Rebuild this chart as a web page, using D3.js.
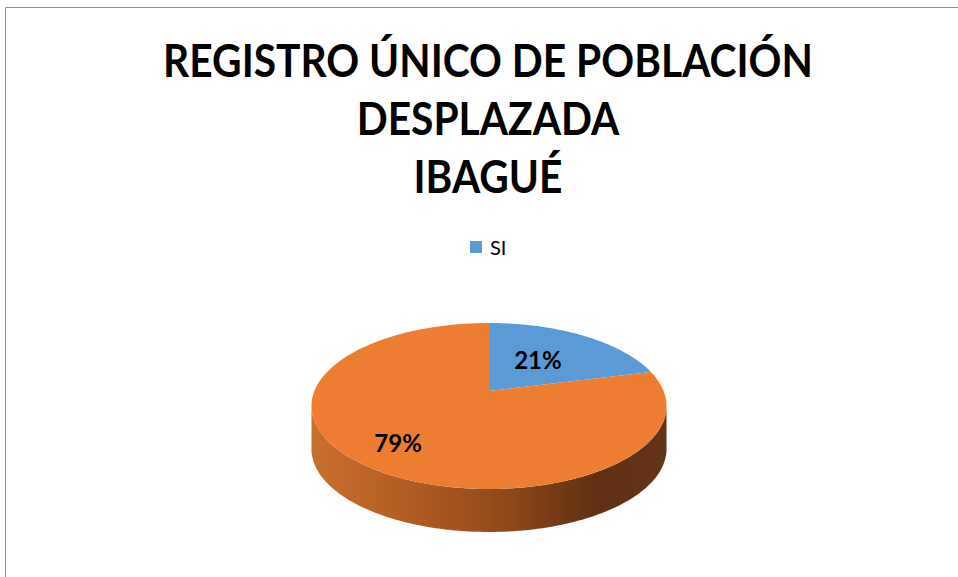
<!DOCTYPE html>
<html>
<head>
<meta charset="utf-8">
<script src="https://cdn.jsdelivr.net/npm/d3@7"></script>
<style>
  html, body { margin: 0; padding: 0; background: #fff; }
  svg { display: block; }
</style>
</head>
<body>
<svg id="chart" width="958" height="577"></svg>
<script>
// ---- data ----
const titleLines = ["REGISTRO ÚNICO DE POBLACIÓN", "DESPLAZADA", "IBAGUÉ"];
const categories = ["SI", "NO"];
const legendLabels = ["SI"];
const values = [21, 79];
const labels = ["21%", "79%"];
const colors = ["#5b9bd5", "#ed7d31"];

// ---- layout ----
const W = 958, H = 577;
const svg = d3.select("#chart");

// border (top & left visible)
svg.append("line").attr("x1", 5.5).attr("y1", 7.5).attr("x2", W).attr("y2", 7.5)
  .attr("stroke", "#8c8c8c").attr("stroke-width", 1);
svg.append("line").attr("x1", 5.5).attr("y1", 7.5).attr("x2", 5.5).attr("y2", H)
  .attr("stroke", "#8c8c8c").attr("stroke-width", 1);

// title
const titleG = svg.append("g");
const baselines = [77, 135, 193];
titleLines.forEach((t, i) => {
  titleG.append("text")
    .attr("x", 488).attr("y", baselines[i])
    .attr("text-anchor", "middle")
    .attr("font-family", "Lato, 'Open Sans', sans-serif")
    .attr("font-weight", 700)
    .attr("font-size", 45)
    .attr("fill", "#000")
    .text(t);
});
// fit first line width to ~650px
const first = titleG.select("text").node();
const wlen = first.getComputedTextLength();
if (wlen > 0) {
  const sx = 650 / wlen;
  titleG.selectAll("text").each(function() {
    const x = +this.getAttribute("x");
    d3.select(this).attr("transform", `translate(${x},0) scale(${sx},1) translate(${-x},0)`);
  });
}

// legend
const legend = svg.append("g");
legendLabels.forEach((l, i) => {
  legend.append("rect").attr("x", 470).attr("y", 241).attr("width", 12).attr("height", 12)
    .attr("fill", colors[categories.indexOf(l)]);
  legend.append("text").attr("x", 490).attr("y", 255)
    .attr("font-family", "Lato, 'Open Sans', sans-serif").attr("font-size", 20)
    .attr("fill", "#000").text(l);
});

// ---- 3D pie projection ----
const X0 = 489, Y0 = 391, A = 174.6, B = 80.3, K = -0.1806, DEPTH = 43;
function proj(a, r = 1) {
  const u = r * Math.sin(a), v = -r * Math.cos(a);
  const s = 1 + K * v;
  return [X0 + A * u / s, Y0 + B * v / s];
}
const pie = d3.pie().sort(null).value(d => d);
const arcs = pie(values);

// gradient for side
const defs = svg.append("defs");
const grad = defs.append("linearGradient").attr("id", "sideOrange")
  .attr("gradientUnits", "userSpaceOnUse")
  .attr("x1", 312).attr("y1", 0).attr("x2", 668).attr("y2", 0);
[[0, "#c8702e"], [0.3, "#b05a22"], [0.55, "#8f4819"], [0.8, "#5f3013"], [1, "#643418"]]
  .forEach(([o, c]) => grad.append("stop").attr("offset", o).attr("stop-color", c));
const gradB = defs.append("linearGradient").attr("id", "sideBlue")
  .attr("gradientUnits", "userSpaceOnUse")
  .attr("x1", 312).attr("y1", 0).attr("x2", 668).attr("y2", 0);
[[0, "#4a82b5"], [1, "#284866"]]
  .forEach(([o, c]) => gradB.append("stop").attr("offset", o).attr("stop-color", c));
const sideFill = ["url(#sideBlue)", "url(#sideOrange)"];

const fr0 = Math.acos(K), fr1 = 2 * Math.PI - Math.acos(K);
const line = d3.line();
const N = 120;

// sides
arcs.forEach((d, i) => {
  const a0 = Math.max(d.startAngle, fr0), a1 = Math.min(d.endAngle, fr1);
  if (a1 <= a0) return;
  const top = d3.range(N + 1).map(j => proj(a0 + (a1 - a0) * j / N));
  const bot = top.slice().reverse().map(([x, y]) => [x, y + DEPTH]);
  svg.append("path").attr("d", line(top.concat(bot)) + "Z")
    .attr("fill", sideFill[i]);
});

// top faces
arcs.forEach((d, i) => {
  const pts = [[X0, Y0]].concat(d3.range(N + 1).map(j =>
    proj(d.startAngle + (d.endAngle - d.startAngle) * j / N)));
  svg.append("path").attr("d", line(pts) + "Z").attr("fill", colors[i]);
});

// labels
const labelR = [0.5, 0.75];
arcs.forEach((d, i) => {
  const [x, y] = proj((d.startAngle + d.endAngle) / 2, labelR[i]);
  svg.append("text").attr("x", x - 1).attr("y", y + 8)
    .attr("text-anchor", "middle")
    .attr("font-family", "Lato, 'Open Sans', sans-serif")
    .attr("font-weight", 700).attr("font-size", 24)
    .attr("fill", "#000").text(labels[i]);
});
</script>
</body>
</html>
